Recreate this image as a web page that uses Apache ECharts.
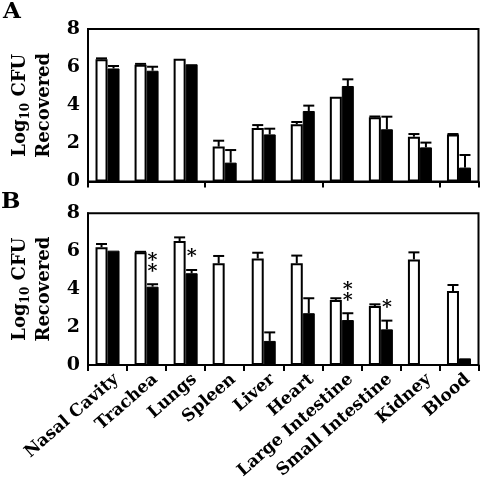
<!DOCTYPE html>
<html><head><meta charset="utf-8">
<script src="https://cdn.jsdelivr.net/npm/echarts@6/dist/echarts.min.js"></script>
<style>html,body{margin:0;padding:0;background:#fff}#c{width:480px;height:478px}</style>
</head><body><div id="c"></div>
<script>
const categories = ['Nasal Cavity','Trachea','Lungs','Spleen','Liver','Heart','Large Intestine','Small Intestine','Kidney','Blood'];
const yTicks = [0, 2, 4, 6, 8];
// Panel A
const aWhite    = [6.41, 6.13, 6.44, 1.83, 2.81, 3.00, 4.45, 3.37, 2.35, 2.47];
const aWhiteErr = [0.05, 0.04, 0,    0.31, 0.15, 0.12, 0,    0.04, 0.14, 0.02];
const aBlack    = [5.93, 5.81, 6.15, 0.99, 2.47, 3.70, 5.01, 2.74, 1.79, 0.73];
const aBlackErr = [0.13, 0.21, 0,    0.66, 0.30, 0.28, 0.35, 0.66, 0.25, 0.66];
// Panel B
const bWhite    = [6.21, 5.94, 6.54, 5.36, 5.62, 5.36, 3.43, 3.11, 5.57, 3.90];
const bWhiteErr = [0.17, 0.03, 0.19, 0.39, 0.30, 0.41, 0.09, 0.09, 0.37, 0.32];
const bBlack    = [6.03, 4.13, 4.84, null, 1.27, 2.73, 2.37, 1.88, null, 0.35];
const bBlackErr = [0,    0.13, 0.17, 0,    0.45, 0.79, 0.36, 0.46, 0,    0];
const bSig      = ['',   '**', '*',  '',   '',   '',   '**', '*',  '',   ''];

const FONT = '"DejaVu Serif", "Liberation Serif", serif';
const BAR_W = 12;

function errData(vals, errs) {
  return vals.map((v, i) => [i, v == null ? 0 : v, errs[i] || 0]);
}
function errSeries(vals, errs, gi, side) {
  return {
    type: 'custom', xAxisIndex: gi, yAxisIndex: gi, z: 5,
    data: errData(vals, errs),
    renderItem: function (params, api) {
      const e = api.value(2);
      if (!e) return;
      const x = api.value(0), v = api.value(1);
      const p0 = api.coord([x, v]);
      const p1 = api.coord([x, v + e]);
      const cx = p0[0] + side * BAR_W / 2;
      return {
        type: 'group',
        children: [
          { type: 'line', shape: { x1: cx, y1: p0[1], x2: cx, y2: p1[1] }, style: { stroke: '#000', lineWidth: 2 } },
          { type: 'line', shape: { x1: cx - 5.5, y1: p1[1], x2: cx + 5.5, y2: p1[1] }, style: { stroke: '#000', lineWidth: 2 } }
        ]
      };
    }
  };
}
function barSeries(vals, gi, white) {
  return {
    type: 'bar', xAxisIndex: gi, yAxisIndex: gi, barWidth: BAR_W, barGap: '0%',
    data: vals.map(v => v == null ? '-' : v),
    itemStyle: white ? { color: '#fff', borderColor: '#000', borderWidth: 2 } : { color: '#000', borderColor: '#000', borderWidth: 1 },
    z: 3
  };
}
const sigData = bSig.map((s, i) => [i, (bBlack[i] || 0) + (bBlackErr[i] || 0), s]);

const yName = '{t|Log}{s|10}{t| CFU}\n{t|Recovered}';
function yAxis(gi) {
  return {
    gridIndex: gi, type: 'value', min: 0, max: 8, interval: 2,
    axisLine: { show: true, lineStyle: { color: '#000', width: 2 } },
    axisTick: { show: false },
    splitLine: { show: false },
    axisLabel: { color: '#000', fontFamily: FONT, fontWeight: 'bold', fontSize: 19, margin: 8,
      formatter: v => yTicks.indexOf(v) >= 0 ? String(v) : '' },
    name: yName, nameLocation: 'middle', nameRotate: 90, nameGap: 26,
    nameTextStyle: {
      color: '#000', fontFamily: FONT, fontWeight: 'bold', fontSize: 18, lineHeight: 24,
      rich: {
        t: { fontFamily: FONT, fontWeight: 'bold', fontSize: 18, lineHeight: 24, color: '#000', verticalAlign: 'middle' },
        s: { fontFamily: FONT, fontWeight: 'bold', fontSize: 12, lineHeight: 14, color: '#000', verticalAlign: 'bottom' }
      }
    }
  };
}
function xAxis(gi, showLabels) {
  return {
    gridIndex: gi, type: 'category', data: categories,
    axisLine: { show: true, lineStyle: { color: '#000', width: 2 } },
    axisTick: { show: true, length: 6, lineStyle: { color: '#000', width: 2 } },
    axisLabel: showLabels ? { show: true, interval: 0, rotate: 41, margin: 2, verticalAlign: 'top', padding: [5, 0, 0, 0], color: '#000', fontFamily: FONT, fontWeight: 'bold', fontSize: 17, hideOverlap: false } : { show: false }
  };
}

const chart = echarts.init(document.getElementById('c'), null, { renderer: 'canvas' });
chart.setOption({
  animation: false,
  backgroundColor: '#fff',
  grid: [
    { left: 88, right: 1.5, top: 29, height: 152.5, show: true, borderColor: '#000', borderWidth: 2, containLabel: false, outerBoundsMode: 'none' },
    { left: 88, right: 1.5, top: 213.3, height: 151.7, show: true, borderColor: '#000', borderWidth: 2, containLabel: false, outerBoundsMode: 'none' }
  ],
  xAxis: [xAxis(0, false), xAxis(1, true)],
  yAxis: [yAxis(0), yAxis(1)],
  graphic: [
    { type: 'text', left: 3, top: 1, style: { text: 'A', font: 'bold 23px ' + FONT, fill: '#000' } },
    { type: 'text', left: 1, top: 191, style: { text: 'B', font: 'bold 23px ' + FONT, fill: '#000' } }
  ],
  series: [
    barSeries(aWhite, 0, true), barSeries(aBlack, 0, false),
    errSeries(aWhite, aWhiteErr, 0, -1), errSeries(aBlack, aBlackErr, 0, 1),
    barSeries(bWhite, 1, true), barSeries(bBlack, 1, false),
    errSeries(bWhite, bWhiteErr, 1, -1), errSeries(bBlack, bBlackErr, 1, 1),
    {
      type: 'custom', xAxisIndex: 1, yAxisIndex: 1, z: 6, data: sigData,
      renderItem: function (params, api) {
        const s = sigData[params.dataIndex][2];
        if (!s) return;
        const p = api.coord([api.value(0), api.value(1)]);
        return { type: 'text', x: p[0] + BAR_W / 2, y: p[1] - 7,
          style: { text: s.split('').join('\n'), fill: '#000', font: 'bold 19px ' + FONT, lineHeight: 11, align: 'center', verticalAlign: 'bottom' } };
      }
    }
  ]
});
</script></body></html>
